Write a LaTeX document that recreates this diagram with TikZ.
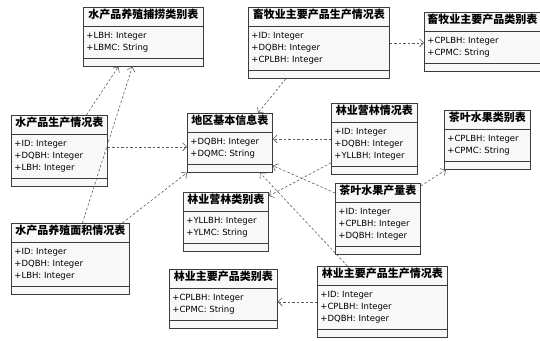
\documentclass[tikz,border=0pt]{standalone}
\usepackage{fontspec}
\setmainfont{DejaVu Sans}
\newfontfamily\cjk{Noto Sans CJK SC}
\usetikzlibrary{shapes.multipart, arrows.meta}

\definecolor{umlLine}{HTML}{3C3C3C}
\definecolor{umlFill}{HTML}{F8F8F8}
\definecolor{depLine}{HTML}{5A5A5A}

\newcommand{\tname}[1]{{\cjk\bfseries\fontsize{11}{13}\selectfont\rule[-6pt]{0pt}{16pt}#1}}
\newcommand{\attrs}[1]{\begin{tabular}{@{}l@{}}\rule{0pt}{10.9pt}#1\rule[-6.1pt]{0pt}{6.1pt}\end{tabular}}
\newcommand{\noops}{\hspace{1pt}}

\begin{document}
\begin{tikzpicture}[
        x=1pt, y=-1pt,
        tableNode/.style={rectangle split, rectangle split parts=3, draw=umlLine, fill=umlFill, line width=0.8pt,
            anchor=north west, rectangle split part align={center,left,left}, inner xsep=3pt, inner ysep=1pt,
            font=\fontsize{8.5}{12}\selectfont},
        dep/.style={depLine, line width=0.6pt, dash pattern=on 2.5pt off 2pt, -{Straight Barb[length=4pt, width=8pt]}}
    ]
        \useasboundingbox (0, 0) rectangle (540, 340);

        \node[tableNode, minimum width=120pt] (fishcat) at (83, 7) {\tname{水产品养殖捕捞类别表}\nodepart{two}\attrs{+LBH: Integer\\+LBMC: String}\nodepart{three}\noops};
        \node[tableNode, minimum width=141pt] (livestock) at (248, 7) {\tname{畜牧业主要产品生产情况表}\nodepart{two}\attrs{+ID: Integer\\+DQBH: Integer\\+CPLBH: Integer}\nodepart{three}\noops};
        \node[tableNode, minimum width=116pt] (livecat) at (424, 12) {\tname{畜牧业主要产品类别表}\nodepart{two}\attrs{+CPLBH: Integer\\+CPMC: String}\nodepart{three}\noops};
        \node[tableNode, minimum width=96pt] (fishprod) at (11, 115) {\tname{水产品生产情况表}\nodepart{two}\attrs{+ID: Integer\\+DQBH: Integer\\+LBH: Integer}\nodepart{three}\noops};
        \node[tableNode, minimum width=85pt] (region) at (187, 113) {\tname{地区基本信息表}\nodepart{two}\attrs{+DQBH: Integer\\+DQMC: String}\nodepart{three}\noops};
        \node[tableNode, minimum width=86pt] (forest) at (331, 103) {\tname{林业营林情况表}\nodepart{two}\attrs{+ID: Integer\\+DQBH: Integer\\+YLLBH: Integer}\nodepart{three}\noops};
        \node[tableNode, minimum width=86pt] (teacat) at (444, 110) {\tname{茶叶水果类别表}\nodepart{two}\attrs{+CPLBH: Integer\\+CPMC: String}\nodepart{three}\noops};
        \node[tableNode, minimum width=118pt] (fisharea) at (11, 223) {\tname{水产品养殖面积情况表}\nodepart{two}\attrs{+ID: Integer\\+DQBH: Integer\\+LBH: Integer}\nodepart{three}\noops};
        \node[tableNode, minimum width=85pt] (forestcat) at (183, 192) {\tname{林业营林类别表}\nodepart{two}\attrs{+YLLBH: Integer\\+YLMC: String}\nodepart{three}\noops};
        \node[tableNode, minimum width=108pt] (productcat) at (169, 269) {\tname{林业主要产品类别表}\nodepart{two}\attrs{+CPLBH: Integer\\+CPMC: String}\nodepart{three}\noops};
        \node[tableNode, minimum width=85pt] (teaprod) at (335, 183) {\tname{茶叶水果产量表}\nodepart{two}\attrs{+ID: Integer\\+CPLBH: Integer\\+DQBH: Integer}\nodepart{three}\noops};
        \node[tableNode, minimum width=130pt] (forestprod) at (317, 266) {\tname{林业主要产品生产情况表}\nodepart{two}\attrs{+ID: Integer\\+CPLBH: Integer\\+DQBH: Integer}\nodepart{three}\noops};

        \draw[dep] ([xshift=27pt]fishprod.north) -- ([xshift=-25pt]fishcat.south);
        \draw[dep] ([xshift=12pt]fisharea.north) -- ([xshift=-11pt]fishcat.south);
        \draw[dep] ([yshift=4pt]fishprod.east) -- ([yshift=-4pt]region.west);
        \draw[dep] ([xshift=-33pt]livestock.south) -- ([xshift=28pt]region.north);
        \draw[dep] (livestock.east) -- (livestock.east -| livecat.west);
        \draw[dep] (forest.west) -- (forest.west -| region.east);
        \draw[dep] ([xshift=52pt]fisharea.north) -- (region.south west);
        \draw[dep] ([yshift=-24pt]forest.west) -- ([yshift=-4pt]forestcat.north east);
        \draw[dep] ([yshift=-10pt]teaprod.north west) -- ([yshift=7pt]region.south east);
        \draw[dep] ([xshift=-35pt]forestprod.north) -- ([xshift=30pt]region.south);
        \draw[dep] (forestprod.west) -- (forestprod.west -| productcat.east);
        \draw[dep] ([yshift=-3pt]teaprod.north east) -- ([xshift=2pt]teacat.south west);
    \end{tikzpicture}
\end{document}
